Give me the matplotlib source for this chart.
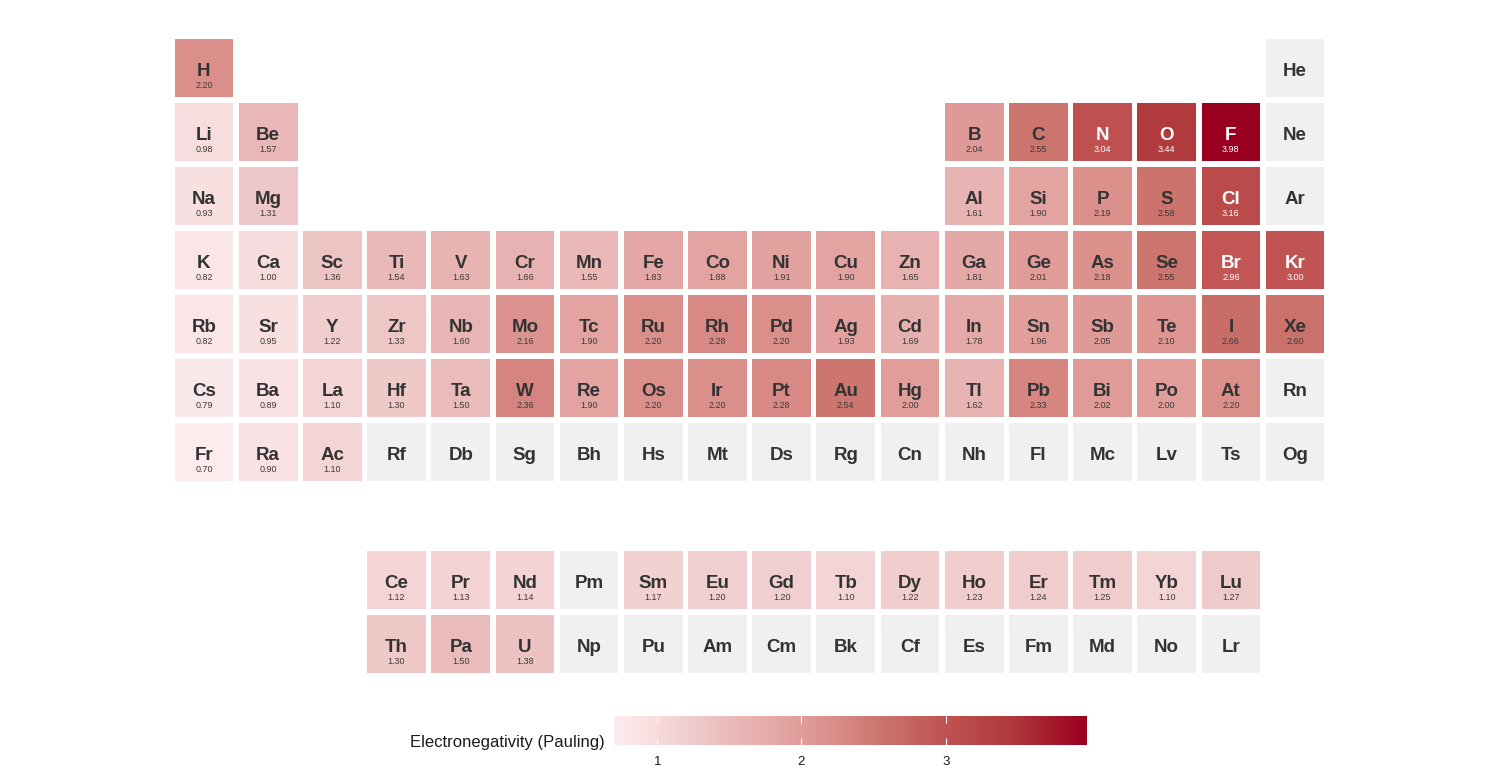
import numpy as np
import matplotlib.pyplot as plt
from matplotlib.colors import LinearSegmentedColormap, Normalize
from matplotlib.patches import Rectangle

plt.rcParams['font.family'] = ['Liberation Sans', 'DejaVu Sans']

nan = np.nan

# element symbols, group (column), period row, Pauling electronegativity
symbols = ['H', 'He',
           'Li', 'Be', 'B', 'C', 'N', 'O', 'F', 'Ne',
           'Na', 'Mg', 'Al', 'Si', 'P', 'S', 'Cl', 'Ar',
           'K', 'Ca', 'Sc', 'Ti', 'V', 'Cr', 'Mn', 'Fe', 'Co', 'Ni', 'Cu', 'Zn', 'Ga', 'Ge', 'As', 'Se', 'Br', 'Kr',
           'Rb', 'Sr', 'Y', 'Zr', 'Nb', 'Mo', 'Tc', 'Ru', 'Rh', 'Pd', 'Ag', 'Cd', 'In', 'Sn', 'Sb', 'Te', 'I', 'Xe',
           'Cs', 'Ba', 'La', 'Hf', 'Ta', 'W', 'Re', 'Os', 'Ir', 'Pt', 'Au', 'Hg', 'Tl', 'Pb', 'Bi', 'Po', 'At', 'Rn',
           'Fr', 'Ra', 'Ac', 'Rf', 'Db', 'Sg', 'Bh', 'Hs', 'Mt', 'Ds', 'Rg', 'Cn', 'Nh', 'Fl', 'Mc', 'Lv', 'Ts', 'Og',
           'Ce', 'Pr', 'Nd', 'Pm', 'Sm', 'Eu', 'Gd', 'Tb', 'Dy', 'Ho', 'Er', 'Tm', 'Yb', 'Lu',
           'Th', 'Pa', 'U', 'Np', 'Pu', 'Am', 'Cm', 'Bk', 'Cf', 'Es', 'Fm', 'Md', 'No', 'Lr']

columns = ([1, 18] +
           [1, 2, 13, 14, 15, 16, 17, 18] +
           [1, 2, 13, 14, 15, 16, 17, 18] +
           list(range(1, 19)) + list(range(1, 19)) + list(range(1, 19)) + list(range(1, 19)) +
           list(range(4, 18)) + list(range(4, 18)))

rows = ([1] * 2 + [2] * 8 + [3] * 8 + [4] * 18 + [5] * 18 + [6] * 18 + [7] * 18 +
        [9] * 14 + [10] * 14)

electroneg = [2.20, nan,
              0.98, 1.57, 2.04, 2.55, 3.04, 3.44, 3.98, nan,
              0.93, 1.31, 1.61, 1.90, 2.19, 2.58, 3.16, nan,
              0.82, 1.00, 1.36, 1.54, 1.63, 1.66, 1.55, 1.83, 1.88, 1.91, 1.90, 1.65, 1.81, 2.01, 2.18, 2.55, 2.96, 3.00,
              0.82, 0.95, 1.22, 1.33, 1.60, 2.16, 1.90, 2.20, 2.28, 2.20, 1.93, 1.69, 1.78, 1.96, 2.05, 2.10, 2.66, 2.60,
              0.79, 0.89, 1.10, 1.30, 1.50, 2.36, 1.90, 2.20, 2.20, 2.28, 2.54, 2.00, 1.62, 2.33, 2.02, 2.00, 2.20, nan,
              0.70, 0.90, 1.10] + [nan] * 15 + \
             [1.12, 1.13, 1.14, nan, 1.17, 1.20, 1.20, 1.10, 1.22, 1.23, 1.24, 1.25, 1.10, 1.27] + \
             [1.30, 1.50, 1.38] + [nan] * 11

vmin, vmax = 0.70, 3.98
cmap = LinearSegmentedColormap.from_list(
    'en', [(0.0, '#fcecee'), (0.09, '#f7dcdd'), (0.20, '#edc4c4'),
           (0.40, '#e09c99'), (0.48, '#d98a86'), (0.56, '#cc766f'),
           (0.70, '#c05452'), (0.84, '#b0393b'), (1.0, '#99001f')])
norm = Normalize(vmin, vmax)

fig = plt.figure(figsize=(15, 7.75), dpi=100)
ax = fig.add_axes([0, 0, 1, 1])
dx = 64.18
dy = 64.0
ax.set_xlim(1 - 204 / dx, 1 + 1296 / dx)
ax.set_ylim(1 + 707 / dy, 1 - 68 / dy)
ax.axis('off')

w = 0.915
for sym, c, r, v in zip(symbols, columns, rows, electroneg):
    face = '#f0f0f0' if np.isnan(v) else cmap(norm(v))
    ax.add_patch(Rectangle((c - w / 2, r - w / 2), w, w, facecolor=face, edgecolor='none'))
    tcol = 'white' if (not np.isnan(v) and v > 2.8) else '#333333'
    ax.text(c, r + 0.12, sym, ha='center', va='baseline', fontsize=13.5,
            fontweight='bold', color=tcol)
    if not np.isnan(v):
        ax.text(c, r + 0.305, f'{v:.2f}', ha='center', va='baseline',
                fontsize=6.5, color='white' if v > 2.8 else '#3a3a3a')

# colorbar
cax = fig.add_axes([614 / 1500, 30 / 775, 473 / 1500, 29 / 775])
grad = np.linspace(vmin, vmax, 512)[None, :]
cax.imshow(grad, aspect='auto', cmap=cmap, norm=norm,
           extent=[vmin, vmax, 0, 1])
cax.set_xlim(vmin, vmax)
cax.set_ylim(0, 1)
for s in cax.spines.values():
    s.set_visible(False)
cax.set_yticks([])
cax.set_xticks([1, 2, 3])
cax.tick_params(axis='x', direction='in', length=5, width=0.8, color='white',
                top=True, bottom=True, labelsize=9.5, pad=8, labelcolor='#1a1a1a')
fig.text(605 / 1500, 1 - 743 / 775, 'Electronegativity (Pauling)', ha='right',
         va='center', fontsize=12, color='#1a1a1a')

fig.savefig('out.png', dpi=100)
